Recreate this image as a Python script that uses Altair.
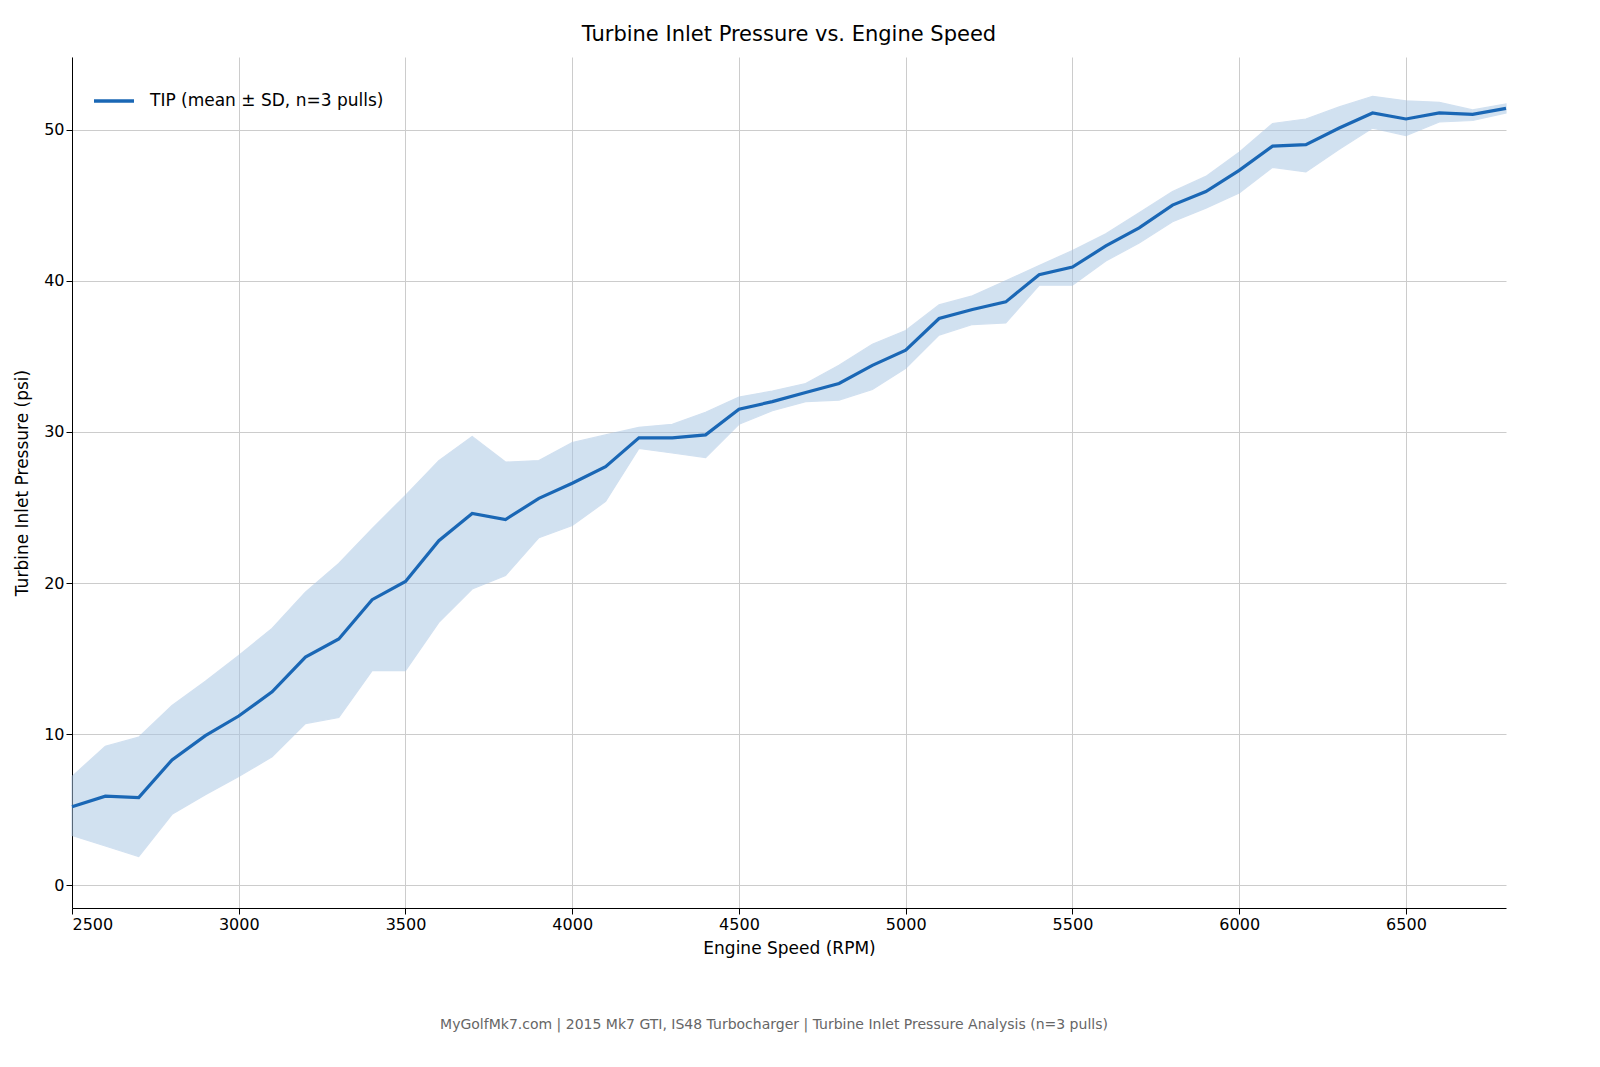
import altair as alt
import pandas as pd

rpm = list(range(2500, 6900, 100))
mean = [5.2,5.9,5.8,8.3,9.9,11.2,12.8,15.1,16.3,18.9,20.1,22.8,24.6,24.2,25.6,26.6,27.7,29.6,29.6,29.8,
        31.5,32.0,32.6,33.2,34.4,35.4,37.5,38.1,38.6,40.4,40.9,42.3,43.5,45.0,45.9,47.3,48.9,49.0,50.1,51.1,
        50.7,51.1,51.0,51.4]
upper = [7.2,9.2,9.8,11.9,13.5,15.2,17.0,19.4,21.3,23.6,25.8,28.1,29.7,28.0,28.1,29.3,29.8,30.3,30.5,31.3,
         32.3,32.7,33.2,34.4,35.8,36.7,38.4,39.0,40.0,41.0,42.0,43.1,44.5,45.9,46.9,48.5,50.4,50.7,51.5,52.2,
         51.9,51.8,51.3,51.7]
lower = [3.3,2.6,1.9,4.7,6.0,7.2,8.5,10.7,11.1,14.2,14.2,17.4,19.6,20.5,23.0,23.8,25.4,28.9,28.6,28.3,
         30.5,31.4,32.0,32.1,32.8,34.2,36.4,37.1,37.2,39.7,39.7,41.3,42.5,43.9,44.8,45.8,47.5,47.2,48.7,50.1,
         49.6,50.5,50.6,51.1]
footer = "MyGolfMk7.com | 2015 Mk7 GTI, IS48 Turbocharger | Turbine Inlet Pressure Analysis (n=3 pulls)"

df = pd.DataFrame({"rpm": rpm, "mean": mean, "upper": upper, "lower": lower,
                   "series": "TIP (mean ± SD, n=3 pulls)"})

W, H = 1434, 851
ydom = alt.Scale(domain=[-1.5, 54.8], nice=False, zero=False)
xs = alt.X("rpm:Q", title="Engine Speed (RPM)",
           scale=alt.Scale(domain=[2500, 6800], nice=False, zero=False),
           axis=alt.Axis(values=list(range(2500, 7000, 500)), format="d"))
ys = alt.Y("mean:Q", title="Turbine Inlet Pressure (psi)", scale=ydom,
           axis=alt.Axis(values=[0, 10, 20, 30, 40, 50]))

base = alt.Chart(df)
band = base.mark_area(color="#a9c6e4", opacity=0.52, stroke="#a9c6e4", strokeWidth=1.2).encode(
    x=xs, y=alt.Y("lower:Q", scale=ydom), y2="upper:Q")
line = base.mark_line(strokeWidth=3.2).encode(
    x=xs, y=ys,
    color=alt.Color("series:N", scale=alt.Scale(range=["#1a67b5"]),
                    legend=alt.Legend(title=None, orient="none", legendX=20, legendY=22,
                                      symbolType="stroke", symbolStrokeWidth=3.5, symbolSize=1600,
                                      labelFontSize=17, labelFont="DejaVu Sans", labelLimit=0,
                                      labelOffset=14)))
foot = alt.Chart(pd.DataFrame({"t": [footer]})).mark_text(
    fontSize=14, color="#666666", font="DejaVu Sans").encode(
    text="t:N", x=alt.value(W / 2 - 15), y=alt.value(H + 117))

chart = alt.layer(band, line, foot).properties(
    width=W, height=H,
    title=alt.TitleParams("Turbine Inlet Pressure vs. Engine Speed", fontSize=21,
                          font="DejaVu Sans", fontWeight="normal", offset=12),
    padding={"left": 5, "top": 16, "right": 15, "bottom": 5}
).configure_view(stroke=None).configure_axis(
    labelFont="DejaVu Sans", titleFont="DejaVu Sans", labelFontSize=16, titleFontSize=17,
    titleFontWeight="normal", labelColor="#000", titleColor="#000",
    gridColor="#cccccc", domainColor="#000", tickColor="#000", tickSize=6
).configure_axisX(titlePadding=8).configure_axisY(titlePadding=12)

chart.save("out.html", embed_options={"renderer": "svg", "actions": False})
